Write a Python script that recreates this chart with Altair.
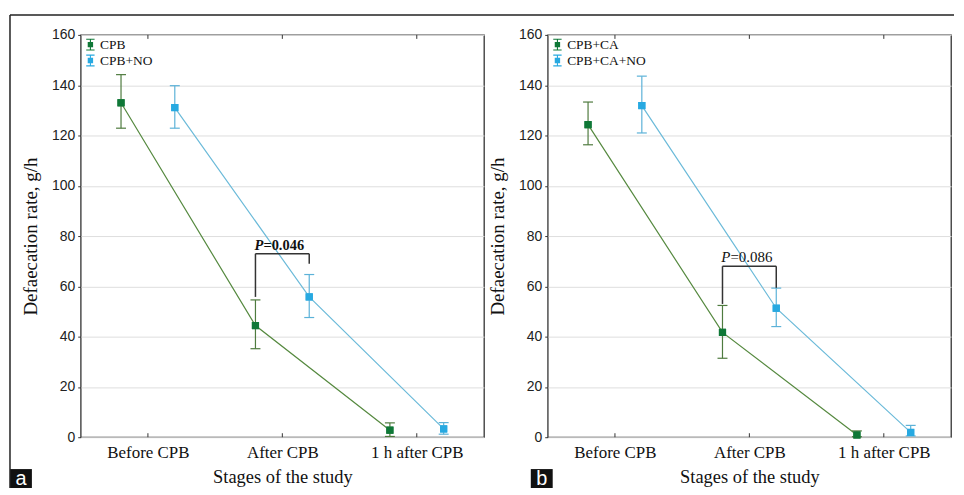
import json
import altair as alt
import pandas as pd

# ---------------- data ----------------
stages = ["Before CPB", "After CPB", "1 h after CPB"]

# panel a
a_names = ["CPB", "CPB+NO"]
a_ctrl_mean = [133.0, 44.4, 2.8]
a_ctrl_lo = [122.9, 35.2, 0.3]
a_ctrl_hi = [144.2, 54.6, 5.7]
a_no_mean = [131.1, 55.8, 3.3]
a_no_lo = [122.9, 47.6, 1.2]
a_no_hi = [139.8, 64.7, 5.8]
a_bracket = [55.8, 73.0, 69.0]   # left foot, top, right foot
a_p = ["P", "=0.046"]

# panel b
b_names = ["CPB+CA", "CPB+CA+NO"]
b_ctrl_mean = [124.3, 41.7, 0.9]
b_ctrl_lo = [116.3, 31.4, 0.2]
b_ctrl_hi = [133.3, 52.4, 2.5]
b_no_mean = [131.9, 51.3, 1.9]
b_no_lo = [121.0, 44.0, 0.5]
b_no_hi = [143.6, 59.3, 4.7]
b_bracket = [53.0, 68.0, 59.4]
b_p = ["P", "=0.086"]

# ---------------- style ----------------
MARKER = ["#0f7837", "#27a9e1"]
LINE = ["#55893f", "#6bbad9"]
ERR = ["#4f7b3f", "#5cb2d8"]
SERIF = "Liberation Serif"
SANS = "Liberation Sans"
W, H = 405, 404
OFF = 0.2
LEGEND_PATH = ("M-0.7,-1H0.7V-0.8H-0.7Z M-0.09,-1H0.09V1H-0.09Z "
               "M-0.7,0.8H0.7V1H-0.7Z M-0.45,-0.45H0.45V0.45H-0.45Z")
label_expr = json.dumps(stages) + "[datum.value]"

one = pd.DataFrame({"k": [0]})

xscale = alt.Scale(domain=[-0.5, 2.5], nice=False, zero=False)
xaxis = alt.Axis(values=[0, 1, 2], labelExpr=label_expr, grid=False,
                 ticks=False, domain=False, labelFont=SERIF,
                 labelFontSize=17, labelColor="#111", labelPadding=7,
                 title="Stages of the study", titleFont=SERIF,
                 titleFontSize=18.5, titleFontWeight="normal",
                 titleColor="#111", titlePadding=7)
yscale = alt.Scale(domain=[0, 160], nice=False)
yaxis = alt.Axis(values=list(range(0, 161, 20)), grid=True,
                 gridColor="#dedede", gridWidth=1, domain=False,
                 tickSize=3, tickColor="#333", labelFont=SANS,
                 labelFontSize=14, labelColor="#222", labelPadding=3,
                 title="Defaecation rate, g/h", titleFont=SERIF,
                 titleFontSize=19, titleFontWeight="normal",
                 titleColor="#111", titlePadding=11)


def X(f):
    return alt.X(f, scale=xscale, axis=xaxis)


def Y(f):
    return alt.Y(f, scale=yscale, axis=yaxis)


def panel(names, cm, clo, chi, nm, nlo, nhi, br, ptxt, bold, letter, frame):
    rows = []
    for g, (m, lo, hi) in enumerate([(cm, clo, chi), (nm, nlo, nhi)]):
        for i in range(len(stages)):
            rows.append({"series": names[g], "g": g, "i": i,
                         "x": i + (-OFF if g == 0 else OFF),
                         "mean": m[i], "lo": lo[i], "hi": hi[i]})
    df = pd.DataFrame(rows)
    base = alt.Chart(df)

    lines = base.mark_line(strokeWidth=1.2).encode(
        x=X("x:Q"), y=Y("mean:Q"),
        stroke=alt.Stroke("series:N", scale=alt.Scale(domain=names, range=LINE), legend=None),
        detail="series:N", order="i:Q")

    ecol = alt.Color("series:N", scale=alt.Scale(domain=names, range=ERR), legend=None)
    errs = base.mark_rule(strokeWidth=1.2).encode(
        x=X("x:Q"), y=Y("lo:Q"), y2="hi:Q", color=ecol)
    caps_hi = base.mark_point(shape="M-1,0H1", size=100, strokeWidth=1.2, filled=False,
                              opacity=1).encode(x=X("x:Q"), y=Y("hi:Q"), color=ecol)
    caps_lo = base.mark_point(shape="M-1,0H1", size=100, strokeWidth=1.2, filled=False,
                              opacity=1).encode(x=X("x:Q"), y=Y("lo:Q"), color=ecol)

    pts = base.mark_point(shape="square", size=52, filled=True, opacity=1).encode(
        x=X("x:Q"), y=Y("mean:Q"),
        fill=alt.Fill("series:N", scale=alt.Scale(domain=names, range=MARKER),
                      legend=alt.Legend(title=None, orient="top-left", offset=3,
                                        padding=0, labelFont=SERIF, labelFontSize=13.5,
                                        labelColor="#111", symbolType=LEGEND_PATH,
                                        symbolSize=144, symbolStrokeWidth=0,
                                        rowPadding=1, labelOffset=3)))

    # inward ticks on bottom & top of the frame
    tdf = pd.DataFrame({"x": [0, 1, 2]})
    tb = alt.Chart(tdf).mark_rule(color="#333", strokeWidth=1).encode(
        x=X("x:Q"), y=alt.value(H - 4), y2=alt.value(H))
    tt = alt.Chart(tdf).mark_rule(color="#333", strokeWidth=1).encode(
        x=X("x:Q"), y=alt.value(0), y2=alt.value(4))

    # significance bracket
    bdf = pd.DataFrame({"x": [1 - OFF, 1 - OFF, 1 + OFF],
                        "x2": [1 - OFF, 1 + OFF, 1 + OFF],
                        "y": [br[0], br[1], br[1]],
                        "y2": [br[1], br[1], br[2]]})
    brk = alt.Chart(bdf).mark_rule(color="#333", strokeWidth=1.5).encode(
        x=X("x:Q"), x2="x2:Q", y=Y("y:Q"), y2="y2:Q")
    tdf2 = pd.DataFrame({"x": [1.0], "y": [br[1]], "p": [ptxt[0]], "r": [ptxt[1]]})
    fw = "bold" if bold else "normal"
    fs = 14.5 if bold else 15
    p1 = alt.Chart(tdf2).mark_text(align="right", baseline="alphabetic", dx=-19, dy=-4,
                                   font=SERIF, fontSize=fs, fontStyle="italic",
                                   fontWeight=fw, color="#111").encode(
        x=X("x:Q"), y=Y("y:Q"), text="p:N")
    p2 = alt.Chart(tdf2).mark_text(align="left", baseline="alphabetic", dx=-19, dy=-4,
                                   font=SERIF, fontSize=fs, fontWeight=fw,
                                   color="#111").encode(
        x=X("x:Q"), y=Y("y:Q"), text="r:N")

    # panel letter box
    lx0, lx1 = letter[1], letter[1] + 22
    lbox = alt.Chart(one).mark_rect(color="#111").encode(
        x=alt.value(lx0), x2=alt.value(lx1), y=alt.value(436), y2=alt.value(455))
    ltxt = alt.Chart(one).mark_text(color="white", font=SANS, fontSize=20,
                                    align="center", baseline="alphabetic").encode(
        x=alt.value((lx0 + lx1) / 2), y=alt.value(452), text=alt.value(letter[0]))

    layers = [pts, lines, errs, caps_hi, caps_lo, tb, tt, brk, p1, p2, lbox, ltxt]
    if frame:
        ftop = alt.Chart(one).mark_rule(color="#222", strokeWidth=1.5).encode(
            x=alt.value(-71), x2=alt.value(877), y=alt.value(-20))
        fleft = alt.Chart(one).mark_rule(color="#222", strokeWidth=1.5).encode(
            x=alt.value(-71), y=alt.value(-20), y2=alt.value(455))
        layers += [ftop, fleft]
    # re-draw markers on top
    layers.append(pts)
    return alt.layer(*layers).properties(width=W, height=H)


pa = panel(a_names, a_ctrl_mean, a_ctrl_lo, a_ctrl_hi, a_no_mean, a_no_lo, a_no_hi,
           a_bracket, a_p, True, ("a", -71), True)
pb = panel(b_names, b_ctrl_mean, b_ctrl_lo, b_ctrl_hi, b_no_mean, b_no_lo, b_no_hi,
           b_bracket, b_p, False, ("b", -17), False)

chart = alt.hconcat(pa, pb, spacing=64, bounds="flush").resolve_scale(
    fill="independent", stroke="independent", color="independent"
).resolve_legend(fill="independent").properties(
    padding={"left": 0, "top": 4, "right": 0, "bottom": 0},
    background="white"
).configure_view(stroke="#333", strokeWidth=1.3)

chart.save("out.html", embed_options={"renderer": "svg", "actions": False})
